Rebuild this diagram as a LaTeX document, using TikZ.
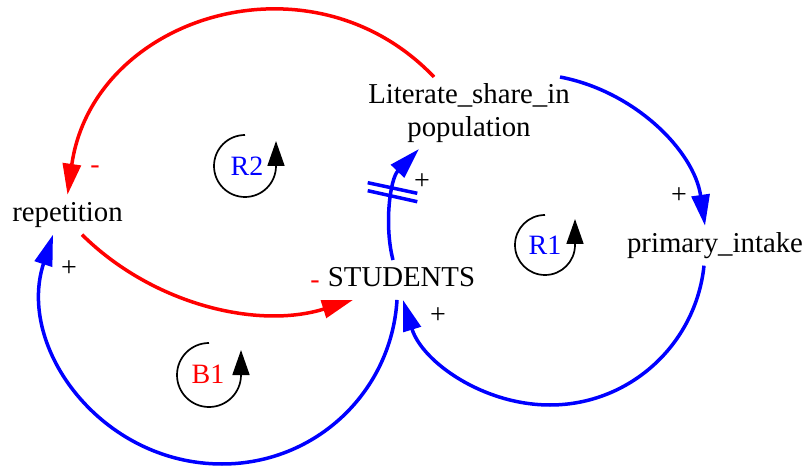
\documentclass[tikz,border=0pt]{standalone}
\usepackage{fontspec}
\setmainfont{Liberation Serif}
\usetikzlibrary{arrows.meta,calc}
\tikzset{
  var/.style={font=\fontsize{28.8bp}{32.3bp}\selectfont, inner sep=6.5bp, text height=20.2bp, text depth=6.3bp},
  varml/.style={font=\fontsize{28.8bp}{32.5bp}\selectfont, inner sep=6.5bp, align=center},
  poslink/.style={line width=3.5bp, draw={rgb,255:red,0;green,0;blue,255}, -{Triangle[length=31bp,width=18bp]}},
  neglink/.style={line width=3.5bp, draw={rgb,255:red,255;green,0;blue,0}, -{Triangle[length=31bp,width=18bp]}},
  pol/.style={font=\fontsize{28bp}{30bp}\selectfont, inner sep=0pt},
  loopsym/.style={line width=1.7bp, draw=black, -{Triangle[length=25bp,width=17bp]}},
  looplbl/.style={font=\fontsize{28bp}{30bp}\selectfont, inner sep=0pt},
  hash/.style={line width=3.5bp, draw=blue}
}
\begin{document}
\begin{tikzpicture}[x=1bp,y=-1bp]
\useasboundingbox[fill=white] (0,0) rectangle (806,466);

% variables
\node[varml] (lit) at (469,113) {Literate\_share\_in\\population};
\node[var] (rep) at (67.5,214.7) {repetition};
\node[var] (stu) at (401.5,280) {STUDENTS};
\node[var] (pri) at (715,245.7) {primary\_intake};

% links
\draw[neglink] ([xshift=-35bp]lit.north) .. controls (311,-52) and (93,16) .. (rep.north);
\draw[neglink] ([xshift=14.5bp]rep.south) .. controls (152.6,304.5) and (257.7,329.7) .. ([xshift=-48.5bp]stu.south);
\coordinate (bl) at (222,464);
\draw[poslink] ([xshift=-4.5bp]stu.south) .. controls (391.5,391.7) and (315.9,464) .. (bl)
   .. controls (101.6,464) and (16,347.6) .. ([xshift=-14.5bp]rep.south);
\draw[poslink] ([xshift=-8.5bp]stu.north) .. controls (384,225) and (390,179) .. ([xshift=-50bp]lit.south);
\draw[poslink] ([xshift=91bp]lit.north) .. controls (635.4,91.4) and (694.2,151.4) .. ([xshift=-10bp]pri.north);
\coordinate (br) at (550,405);
\draw[poslink] ([xshift=-11bp]pri.south) .. controls (695.8,344.4) and (629.8,405) .. (br)
   .. controls (482.9,405) and (422.1,361.7) .. ([xshift=1.5bp]stu.south);

% delay mark
\draw[hash] (367.7,182.7) -- (417.3,193.3);
\draw[hash] (367.7,190.7) -- (417.3,201.7);

% polarity labels
\node[pol, text=red] (m1) at (95,170) {-};
\node[pol, text=red] (m2) at (315,285) {-};
\node[pol] (p1) at (69,269) {+};
\node[pol] (p2) at (422,182) {+};
\node[pol] (p3) at (438,316) {+};
\node[pol] (p4) at (679,196) {+};

% loop symbols
\draw[loopsym] (245,135) arc[start angle=-90, end angle=-360, radius=31] -- ++(0,-25);
\node[looplbl, text=blue] (r2) at (247,166) {R2};
\draw[loopsym] (545,215) arc[start angle=-90, end angle=-360, radius=30] -- ++(0,-26);
\node[looplbl, text=blue] (r1) at (545,245) {R1};
\draw[loopsym] (209,343) arc[start angle=-90, end angle=-360, radius=32] -- ++(0,-25);
\node[looplbl, text=red] (b1) at (208,374) {B1};
\end{tikzpicture}
\end{document}
